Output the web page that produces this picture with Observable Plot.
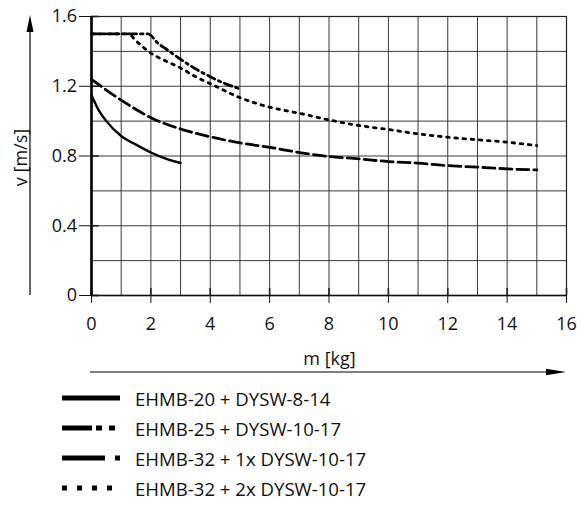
<!DOCTYPE html>
<html><head><meta charset="utf-8">
<script src="https://cdn.jsdelivr.net/npm/d3@7"></script>
<script src="https://cdn.jsdelivr.net/npm/@observablehq/plot@0.6"></script>
<style>
body{margin:0;background:#fff;font-family:"Open Sans",sans-serif;color:#111;}
#legend .row{height:30px;display:flex;align-items:center;font-size:18.6px;}
#legend .row span{margin-left:5px;}
</style></head><body>
<div id="chart"></div><div id="legend"></div>
<script>
// Series names
const seriesNames = ["EHMB-20 + DYSW-8-14", "EHMB-25 + DYSW-10-17", "EHMB-32 + 1x DYSW-10-17", "EHMB-32 + 2x DYSW-10-17"];
// Series values (m [kg] -> v [m/s])
const m1 = [0, 0.25, 0.5, 1, 1.5, 2, 2.5, 3];
const v1 = [1.15, 1.06, 1.0, 0.915, 0.865, 0.82, 0.785, 0.76];
const m2 = [0, 1, 2, 3, 4, 5, 6, 7, 8, 9, 10, 11, 12, 13, 14, 15];
const v2 = [1.24, 1.12, 1.02, 0.955, 0.91, 0.875, 0.85, 0.82, 0.797, 0.784, 0.768, 0.759, 0.745, 0.736, 0.726, 0.72];
const m3 = [0, 1, 1.9, 2.25, 2.5, 3, 3.5, 4, 4.5, 5];
const v3 = [1.5, 1.5, 1.5, 1.445, 1.415, 1.355, 1.30, 1.255, 1.215, 1.185];
const m4 = [0, 1, 1.25, 1.5, 2, 2.5, 3, 3.5, 4, 5, 6, 7, 8, 9, 10, 11, 12, 13, 14, 15];
const v4 = [1.5, 1.5, 1.5, 1.46, 1.39, 1.345, 1.305, 1.255, 1.215, 1.135, 1.08, 1.045, 1.007, 0.975, 0.952, 0.927, 0.908, 0.893, 0.879, 0.86];
// Tick labels
const xTicks = [0, 2, 4, 6, 8, 10, 12, 14, 16];
const yTicks = [0, 0.4, 0.8, 1.2, 1.6];
const xGrid = d3.range(0, 17, 1);
const yGrid = [0.2, 0.4, 0.6, 0.8, 1.0, 1.2, 1.4];
const xLabel = "m [kg]";
const yLabel = "v [m/s]";

const toRows = (ms, vs) => ms.map((m, i) => ({m, v: vs[i]}));
const series = [toRows(m1, v1), toRows(m2, v2), toRows(m3, v3), toRows(m4, v4)];
const chartStyles = [
  {strokeWidth: 2.4, strokeDasharray: null},
  {strokeWidth: 2.8, strokeDasharray: "12,5"},
  {strokeWidth: 2.8, strokeDasharray: "8,4,2.5,4"},
  {strokeWidth: 2.8, strokeDasharray: "2.6,5.6"}
];
const legendStyles = [
  {w: 4.8, dash: null, x2: 120},
  {w: 4.8, dash: "30,4,6,7,6,100", x2: 115},
  {w: 4.8, dash: "43,10,5,100", x2: 120},
  {w: 4.8, dash: "5,10", x2: 113}
];

const plot = Plot.plot({
  width: 581, height: 383,
  marginLeft: 91, marginRight: 15, marginTop: 16, marginBottom: 88,
  style: {fontSize: "18px", fontFamily: "'Open Sans', sans-serif", color: "#111", background: "#fff"},
  x: {domain: [0, 16], label: null},
  y: {domain: [0, 1.6], label: null},
  marks: [
    Plot.gridX(xGrid, {stroke: "#3a3a3a", strokeOpacity: 1, strokeWidth: 1}),
    Plot.gridY(yGrid, {stroke: "#3a3a3a", strokeOpacity: 1, strokeWidth: 1}),
    Plot.ruleY(yTicks, {x1: 0, x2: 0.26, stroke: "#222", strokeWidth: 1.6}),
    Plot.ruleX(xTicks, {y1: 0, y2: 0.04, stroke: "#222", strokeWidth: 1.6}),
    Plot.frame({stroke: "#222", strokeWidth: 1.2}),
    Plot.ruleY([0], {stroke: "#111", strokeWidth: 1.5}),
    Plot.ruleX([0], {stroke: "#000", strokeWidth: 2.6}),
    Plot.axisX({ticks: xTicks, tickSize: 8, tickPadding: 14, label: null, fontSize: 18}),
    Plot.axisY({ticks: yTicks, tickSize: 12, tickPadding: 2.5, tickFormat: d => String(d), label: null, fontSize: 18}),
    ...series.map((rows, i) => Plot.line(rows, {x: "m", y: "v", stroke: "#000", curve: "monotone-x", strokeWidth: chartStyles[i].strokeWidth, strokeDasharray: chartStyles[i].strokeDasharray}))
  ]
});
document.getElementById("chart").appendChild(plot);

// Axis arrows and titles, positioned through the plot's scales
const sx = plot.scale("x"), sy = plot.scale("y");
const svg = d3.select(plot);
const x0 = sx.apply(0), x16 = sx.apply(16), y0 = sy.apply(0), yTop = sy.apply(1.6);
const ax = x0 - 61; // y arrow column
const g = svg.append("g");
g.append("line").attr("x1", ax).attr("x2", ax).attr("y1", y0).attr("y2", yTop + 10).attr("stroke", "#000").attr("stroke-width", 1.2);
g.append("path").attr("d", `M${ax},${yTop - 1}L${ax - 3.5},${yTop + 16}L${ax + 3.5},${yTop + 16}Z`).attr("fill", "#000");
const ay = y0 + 77;
g.append("line").attr("x1", x0 - 1).attr("x2", x16 - 10).attr("y1", ay).attr("y2", ay).attr("stroke", "#000").attr("stroke-width", 1.2);
g.append("path").attr("d", `M${x16},${ay}L${x16 - 20},${ay - 3.2}L${x16 - 20},${ay + 3.2}Z`).attr("fill", "#000");
g.append("text").attr("x", (x0 + x16) / 2 + 1).attr("y", ay - 7).attr("text-anchor", "middle").attr("font-size", 18).attr("fill", "#111").text(xLabel);
g.append("text").attr("transform", `translate(${ax - 10},${(y0 + yTop) / 2 + 2}) rotate(-90)`).attr("text-anchor", "middle").attr("dominant-baseline", "central").attr("font-size", 18).attr("fill", "#111").text(yLabel);

// Legend
const legend = d3.select("#legend");
seriesNames.forEach((name, i) => {
  const row = legend.append("div").attr("class", "row");
  const s = row.append("svg").attr("width", 130).attr("height", 30);
  const st = legendStyles[i];
  s.append("line").attr("x1", 62).attr("x2", st.x2).attr("y1", 15).attr("y2", 15)
    .attr("stroke", "#000").attr("stroke-width", st.w).attr("stroke-dasharray", st.dash);
  row.append("span").text(name);
});
</script>
</body></html>
